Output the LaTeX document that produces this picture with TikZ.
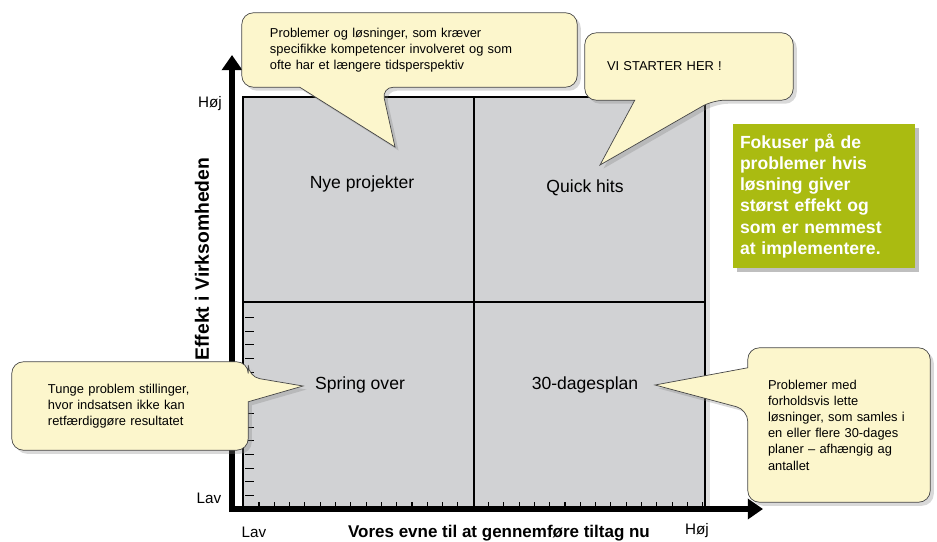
\documentclass[tikz,border=0pt]{standalone}
\usepackage{fontspec}
\setmainfont{Liberation Sans}
\usetikzlibrary{arrows.meta,calc,shadows}
\pgfdeclarelayer{front}
\pgfsetlayers{main,front}
\definecolor{fieldgray}{RGB}{209,210,212}
\definecolor{notefill}{RGB}{252,246,204}
\definecolor{noteline}{RGB}{70,70,70}
\definecolor{focusgreen}{RGB}{170,187,17}

\begin{document}
\begin{tikzpicture}[x=0.03cm,y=-0.03cm,
    axis/.style={line width=5pt,-{Triangle[length=13pt,width=17pt]}},
    quadlabel/.style={font=\fontsize{15}{18}\selectfont},
    scalelabel/.style={font=\fontsize{13}{15}\selectfont},
    axistitle/.style={font=\fontsize{14.5}{17}\selectfont\bfseries},
    notetext/.style={font=\fontsize{11}{13.8}\selectfont,align=left,inner ysep=0pt},
    note/.style={draw=noteline,line width=0.6pt,fill=notefill,
      drop shadow={opacity=0.3,shadow xshift=3pt,shadow yshift=-3pt}}]
  \useasboundingbox (0,0) rectangle (937,542);

  % the four fields
  \fill[fieldgray,drop shadow={opacity=0.25,shadow xshift=4pt,shadow yshift=-3pt}] (243,97) rectangle (705,506);
  \draw[line width=1pt] (243,506) -- (243,97) -- (705,97) -- (705,506);
  \draw[line width=1.2pt] (474,97) -- (474,506);
  \draw[line width=1.2pt] (243,302) -- (705,302);
  \foreach \i in {0,...,13}
    \draw[line width=1pt] (245,{317.5+13.7*\i}) -- ++(9,0);
  \foreach \i in {0,...,13,15,16,...,29}
    \draw[line width=1pt] ({259+15.3*\i},506) -- ++(0,-4);

  % axes
  \coordinate (ybottom) at (232,512);
  \coordinate (ytop)    at (232,55);
  \coordinate (xleft)   at (229,509);
  \coordinate (xright)  at (763,509);
  \draw[axis] (ybottom) -- (ytop);
  \draw[axis] (xleft) -- (xright);

  \node[scalelabel] (yhigh) at (210,104) {Høj};
  \node[scalelabel] (ylow)  at (209,498) {Lav};
  \node[scalelabel] (xlow)  at (254,532) {Lav};
  \node[scalelabel] (xhigh) at (697,531) {Høj};
  \node[axistitle,font=\fontsize{16.5}{19}\selectfont\bfseries,rotate=90] (ytitle) at (202,259) {Effekt i Virksomheden};
  \node[axistitle,anchor=base] (xtitle) at (499,537.5) {Vores evne til at gennemføre tiltag nu};

  \node[quadlabel] (newproj) at (362,184) {Nye projekter};
  \node[quadlabel] (quick)   at (585,188) {Quick hits};
  \node[quadlabel] (skip)    at (360,385) {Spring over};
  \node[quadlabel] (plan30)  at (585,385) {30-dagesplan};

  \node[fill=focusgreen,text=white,font=\fontsize{15}{18}\selectfont\bfseries,align=left,
    text width=5.04cm,minimum width=5.46cm,minimum height=4.32cm,inner xsep=0.21cm,
    drop shadow={opacity=0.5,shadow xshift=3pt,shadow yshift=-3pt}] (focus) at (824,196)
    {Fokuser på de\\ problemer hvis\\ løsning giver\\ størst effekt og\\ som er nemmest\\ at implementere.};

  % callouts: text on the front layer, bubbles behind it
  \begin{pgfonlayer}{front}
    \node[notetext,minimum width=10.05cm,minimum height=2.22cm,inner xsep=0.84cm,text width=8.37cm]
      (longterm) at (409.5,50)
      {Problemer og løsninger, som kræver\\ specifikke kompetencer involveret og som\\ ofte har et længere tidsperspektiv};
    \node[notetext,minimum width=6.24cm,minimum height=2.01cm,inner xsep=0.66cm,text width=4.92cm]
      (starthere) at (689,66.5) {VI STARTER HER !};
    \node[notetext,minimum width=7.08cm,minimum height=2.64cm,inner xsep=1.08cm,text width=4.92cm]
      (heavy) at (130,406)
      {Tunge problem stillinger,\\ hvor indsatsen ikke kan\\ retfærdiggøre resultatet};
    \node[notetext,minimum width=5.46cm,minimum height=4.62cm,inner xsep=0.6cm,text width=4.26cm]
      (easy) at (839,425)
      {Problemer med\\ forholdsvis lette\\ løsninger, som samles i\\ en eller flere 30-dages\\ planer -- afhængig ag\\ antallet};
  \end{pgfonlayer}

  \coordinate (longtip)  at (395,147);
  \coordinate (starttip) at (600,165);
  \coordinate (heavytip) at (303,386);
  \coordinate (easytip)  at (655,385);

  \draw[note,rounded corners=10pt] (longterm.north west) -- (longterm.north east)
    -- (longterm.south east) -- ($(longterm.south west)+(140,0)$) [sharp corners]
    -- (longtip) -- ($(longterm.south west)+(58,0)$) [rounded corners=10pt]
    -- (longterm.south west) -- cycle;
  \draw[note,rounded corners=10pt] (starthere.north west) -- (starthere.north east)
    -- (starthere.south east) -- ($(starthere.south west)+(128,0)$) [sharp corners]
    -- (starttip) -- ($(starthere.south west)+(50,0)$) [rounded corners=10pt]
    -- (starthere.south west) -- cycle;
  \draw[note,rounded corners=10pt] (heavy.north west) -- (heavy.north east)
    -- ($(heavy.north east)+(0,15)$) [sharp corners]
    -- (heavytip) -- ($(heavy.north east)+(0,40)$) [rounded corners=10pt]
    -- (heavy.south east) -- (heavy.south west) -- cycle;
  \draw[note,rounded corners=10pt] (easy.north west) -- (easy.north east)
    -- (easy.south east) -- (easy.south west) -- ($(easy.north west)+(0,62)$) [sharp corners]
    -- (easytip) -- ($(easy.north west)+(0,20)$) [rounded corners=10pt] -- cycle;
\end{tikzpicture}
\end{document}
